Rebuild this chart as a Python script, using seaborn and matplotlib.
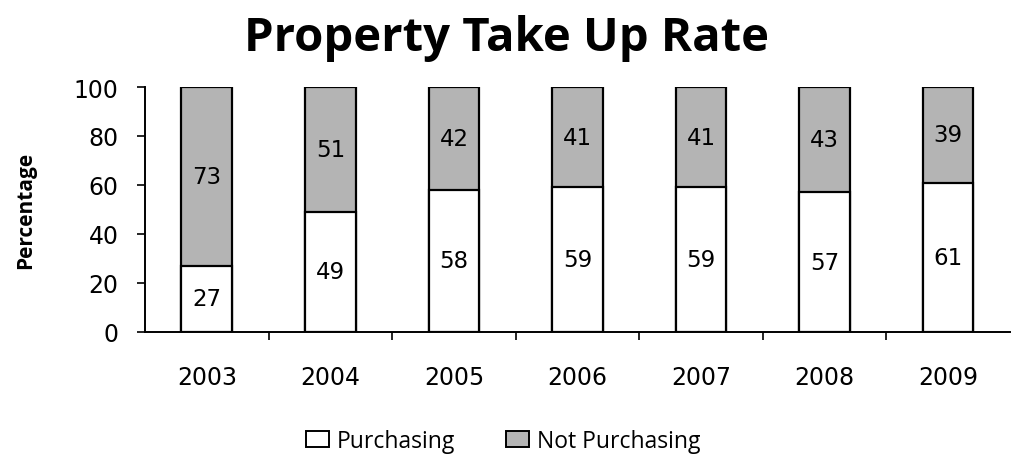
import matplotlib
matplotlib.use("Agg")
import matplotlib.pyplot as plt
import seaborn as sns
import pandas as pd
from matplotlib.patches import Patch

years = ["2003", "2004", "2005", "2006", "2007", "2008", "2009"]
purchasing = [27, 49, 58, 59, 59, 57, 61]
not_purchasing = [73, 51, 42, 41, 41, 43, 39]
series_names = ["Purchasing", "Not Purchasing"]
title = "Property Take Up Rate"
ylabel = "Percentage"
yticks = [0, 20, 40, 60, 80, 100]

sns.set_theme(style="white")
plt.rcParams['font.family'] = ['DejaVu Sans']
plt.rcParams['text.color'] = 'black'
plt.rcParams['axes.labelcolor'] = 'black'
plt.rcParams['xtick.color'] = 'black'
plt.rcParams['ytick.color'] = 'black'

df = pd.DataFrame({"year": years, "purchasing": purchasing, "not_purchasing": not_purchasing})
df["total"] = df["purchasing"] + df["not_purchasing"]

fig = plt.figure(figsize=(10.14, 4.56), dpi=100)
ax = fig.add_axes([0.143, 0.270, 0.853, 0.537])

gray = "#b4b4b4"
sns.barplot(data=df, x="year", y="total", color=gray, width=0.41, edgecolor="black",
            linewidth=1.6, saturation=1, ax=ax)
sns.barplot(data=df, x="year", y="purchasing", color="white", width=0.41, edgecolor="black",
            linewidth=1.6, saturation=1, ax=ax)

for i, (p, n) in enumerate(zip(purchasing, not_purchasing)):
    ax.text(i, p / 2, str(p), ha="center", va="center", fontsize=16.5, color="black")
    ax.text(i, p + n / 2, str(n), ha="center", va="center", fontsize=16.5, color="black")

ax.set_ylim(0, 100)
ax.set_xlim(-0.5, len(years) - 0.5)
ax.set_yticks(yticks)
ax.set_yticklabels([str(t) for t in yticks], fontsize=17)
ax.set_xticks(range(len(years)))
ax.set_xticklabels(years, fontsize=17)
ax.set_xticks([i + 0.5 for i in range(len(years) - 1)], minor=True)
ax.tick_params(axis="x", which="major", length=0, pad=24)
ax.tick_params(axis="x", which="minor", length=6, width=1.2, color="black", direction="out", bottom=True)
ax.tick_params(axis="y", length=6, width=1.2, color="black", direction="out", left=True, pad=13)
ax.set_xlabel("")
ax.set_ylabel(ylabel, fontsize=15, fontweight="bold", family=["Open Sans", "DejaVu Sans"], labelpad=27)

for s in ["top", "right"]:
    ax.spines[s].set_visible(False)
for s in ["left", "bottom"]:
    ax.spines[s].set_color("black")
    ax.spines[s].set_linewidth(1.4)

fig.suptitle(title, x=0.5, y=0.968, fontsize=34, fontweight="bold", family=["Open Sans", "DejaVu Sans"])

handles = [Patch(facecolor="white", edgecolor="black", linewidth=1.4, label=series_names[0]),
           Patch(facecolor=gray, edgecolor="black", linewidth=1.4, label=series_names[1])]
fig.legend(handles=handles, loc="center", bbox_to_anchor=(0.496, 0.03), ncol=2, frameon=False,
           handlelength=1.0, handleheight=0.7, handletextpad=0.35, columnspacing=2.2,
           prop={"family": ["Open Sans", "DejaVu Sans"], "size": 16.5})

fig.savefig("out.png", dpi=100)
